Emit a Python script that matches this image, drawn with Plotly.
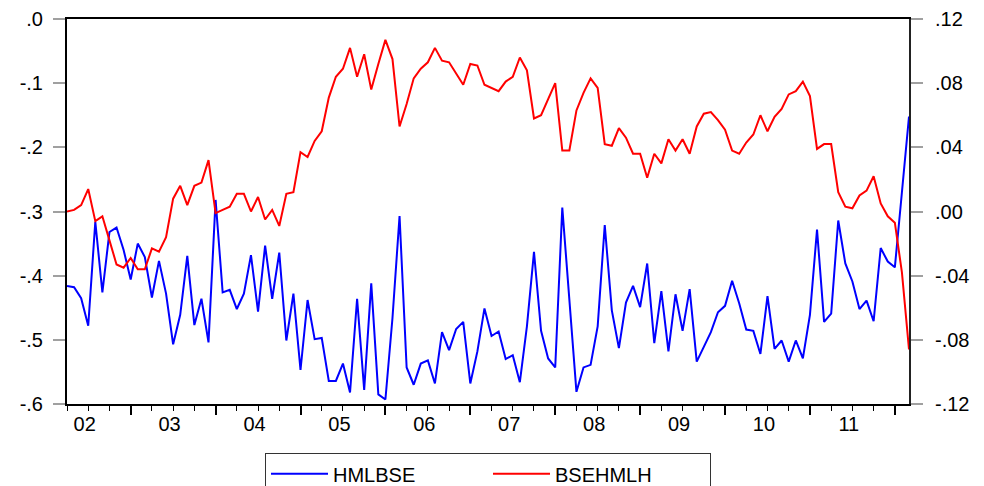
import plotly.graph_objects as go

# Monthly observations, 2002M04 .. 2012M03 (120 points)
start_year, start_month, n_obs = 2002, 4, 120
idx = list(range(n_obs))

hmlbse = [
    -0.416, -0.418, -0.435, -0.478, -0.316, -0.426, -0.332, -0.325, -0.360, -0.406,
    -0.350, -0.371, -0.434, -0.377, -0.428, -0.507, -0.461, -0.369, -0.477, -0.436,
    -0.504, -0.282, -0.426, -0.422, -0.452, -0.428, -0.368, -0.456, -0.353, -0.436,
    -0.364, -0.501, -0.428, -0.547, -0.438, -0.499, -0.497, -0.564, -0.564, -0.537,
    -0.582, -0.436, -0.578, -0.412, -0.585, -0.593, -0.466, -0.307, -0.543, -0.570,
    -0.537, -0.532, -0.568, -0.488, -0.516, -0.483, -0.472, -0.568, -0.518, -0.451,
    -0.494, -0.487, -0.530, -0.524, -0.566, -0.479, -0.363, -0.486, -0.529, -0.543,
    -0.294, -0.438, -0.581, -0.543, -0.539, -0.479, -0.321, -0.454, -0.513, -0.442,
    -0.416, -0.449, -0.381, -0.505, -0.424, -0.518, -0.429, -0.486, -0.421, -0.534,
    -0.511, -0.488, -0.457, -0.447, -0.408, -0.443, -0.484, -0.486, -0.522, -0.432,
    -0.514, -0.501, -0.534, -0.501, -0.529, -0.461, -0.328, -0.472, -0.459, -0.314,
    -0.381, -0.409, -0.452, -0.439, -0.471, -0.357, -0.378, -0.387, -0.270, -0.152,
]

bsehmlh = [
    0.000, 0.001, 0.004, 0.014, -0.006, -0.003, -0.018, -0.033, -0.035, -0.029,
    -0.036, -0.036, -0.023, -0.025, -0.016, 0.008, 0.016, 0.004, 0.016, 0.018,
    0.032, -0.001, 0.001, 0.003, 0.011, 0.011, 0.000, 0.009, -0.005, 0.001,
    -0.009, 0.011, 0.012, 0.037, 0.034, 0.044, 0.050, 0.071, 0.084, 0.089,
    0.102, 0.084, 0.098, 0.076, 0.092, 0.107, 0.095, 0.053, 0.067, 0.083,
    0.089, 0.093, 0.102, 0.094, 0.093, 0.086, 0.079, 0.092, 0.091, 0.079,
    0.077, 0.075, 0.081, 0.084, 0.096, 0.088, 0.058, 0.060, 0.070, 0.080,
    0.038, 0.038, 0.063, 0.074, 0.083, 0.077, 0.042, 0.041, 0.052, 0.046,
    0.036, 0.036, 0.021, 0.036, 0.030, 0.045, 0.038, 0.045, 0.036, 0.053,
    0.061, 0.062, 0.057, 0.051, 0.038, 0.036, 0.043, 0.048, 0.060, 0.050,
    0.059, 0.064, 0.073, 0.075, 0.081, 0.072, 0.039, 0.042, 0.042, 0.012,
    0.003, 0.002, 0.010, 0.013, 0.022, 0.005, -0.003, -0.007, -0.038, -0.086,
]

year_labels = ["02", "03", "04", "05", "06", "07", "08", "09", "10", "11"]
year_label_pos = [2.5 + 12 * k for k in range(len(year_labels))]
year_start_ticks = [9 + 12 * k for k in range(10)]

left_vals = [0.0, -0.1, -0.2, -0.3, -0.4, -0.5, -0.6]
left_text = [".0", "-.1", "-.2", "-.3", "-.4", "-.5", "-.6"]
right_vals = [0.12, 0.08, 0.04, 0.0, -0.04, -0.08, -0.12]
right_text = [".12", ".08", ".04", ".00", "-.04", "-.08", "-.12"]

FONT = "Liberation Sans, Arial, sans-serif"
TICKFONT = dict(family=FONT, size=20, color="black")

fig = go.Figure()
fig.add_trace(go.Scatter(x=idx, y=hmlbse, mode="lines", name="HMLBSE",
                         line=dict(color="#0000ff", width=2), xaxis="x", yaxis="y"))
fig.add_trace(go.Scatter(x=idx, y=bsehmlh, mode="lines", name="BSEHMLH",
                         line=dict(color="#ff0000", width=2), xaxis="x2", yaxis="y2"))

xr = [0, n_obs - 1]
fig.update_layout(
    width=984, height=486,
    margin=dict(l=67, r=75, t=19, b=82, autoexpand=False),
    paper_bgcolor="white", plot_bgcolor="white",
    font=dict(family=FONT, size=18, color="black"),
    showlegend=True,
    legend=dict(orientation="h", x=0.5, xanchor="center", y=-0.128, yanchor="top",
                bordercolor="#333333", borderwidth=1, bgcolor="white",
                itemwidth=57, entrywidth=150, font=dict(size=20, family=FONT),
                traceorder="normal"),
    # main x axis: tick marks (year starts long, quarters short) and frame
    xaxis=dict(range=xr, tickmode="array", tickvals=year_start_ticks,
               ticks="outside", ticklen=9, tickcolor="black", tickwidth=1.5,
               showticklabels=False, showgrid=False, zeroline=False,
               showline=True, linecolor="black", linewidth=1.5, mirror=True,
               minor=dict(tickmode="linear", tick0=0, dtick=3, ticks="outside", ticklen=5,
                          tickcolor="black", tickwidth=1, showgrid=False)),
    # overlay x axis: year labels centred in each year
    xaxis2=dict(range=xr, overlaying="x", anchor="y2", side="bottom", tickmode="array",
                tickvals=year_label_pos, ticktext=year_labels, ticks="",
                showgrid=False, zeroline=False, showline=False,
                tickfont=TICKFONT, ticklabelstandoff=6),
    yaxis=dict(range=[-0.6, 0.0], tickmode="array", tickvals=left_vals, ticktext=left_text,
               ticks="outside", ticklen=12, tickcolor="#a0a0a0", tickwidth=2,
               showgrid=False, zeroline=False, showline=True, linecolor="black", linewidth=2,
               tickfont=TICKFONT, ticklabelstandoff=6),
    yaxis2=dict(range=[-0.12, 0.12], overlaying="y", side="right", anchor="x2",
                tickmode="array", tickvals=right_vals, ticktext=right_text,
                ticks="outside", ticklen=12, tickcolor="#a0a0a0", tickwidth=2,
                showgrid=False, zeroline=False, showline=True, linecolor="#222222",
                linewidth=2, tickfont=TICKFONT, ticklabelstandoff=8),
)

fig.write_html("out.html")
